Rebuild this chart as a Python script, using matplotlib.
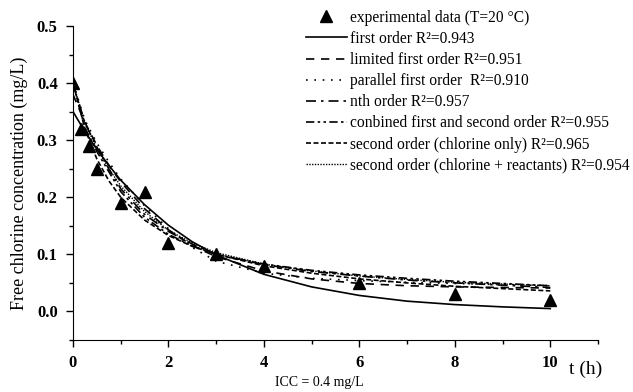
import matplotlib
matplotlib.use("Agg")
import matplotlib.pyplot as plt
from matplotlib.ticker import MultipleLocator

plt.rcParams["font.family"] = "Liberation Serif"

# experimental data
t_exp = [0, 0.17, 0.33, 0.5, 1, 1.5, 2, 3, 4, 6, 8, 10]
c_exp = [0.40, 0.32, 0.29, 0.25, 0.19, 0.21, 0.12, 0.10, 0.08, 0.05, 0.03, 0.02]

# model curves
t_fit = [0, 0.25, 0.5, 0.75, 1, 1.5, 2, 2.5, 3, 4, 5, 6, 7, 8, 9, 10]
first_order = [0.350, 0.315, 0.284, 0.256, 0.230, 0.187, 0.151, 0.122, 0.099, 0.065,
               0.043, 0.028, 0.018, 0.012, 0.008, 0.005]
limited_first = [0.380, 0.331, 0.291, 0.256, 0.227, 0.180, 0.143, 0.115, 0.096, 0.071,
                 0.057, 0.049, 0.045, 0.043, 0.042, 0.041]
parallel_first = [0.400, 0.335, 0.295, 0.262, 0.232, 0.185, 0.145, 0.112, 0.088, 0.067,
                  0.058, 0.054, 0.051, 0.049, 0.047, 0.045]
nth_order = [0.400, 0.330, 0.288, 0.250, 0.215, 0.170, 0.140, 0.118, 0.100, 0.082,
             0.070, 0.062, 0.055, 0.050, 0.046, 0.042]
combined = [0.400, 0.322, 0.280, 0.245, 0.210, 0.165, 0.135, 0.115, 0.100, 0.083,
            0.072, 0.064, 0.058, 0.053, 0.049, 0.045]
second_cl = [0.400, 0.320, 0.267, 0.229, 0.200, 0.160, 0.133, 0.114, 0.100, 0.080,
             0.067, 0.057, 0.050, 0.044, 0.040, 0.036]
second_cl_r = [0.400, 0.330, 0.285, 0.250, 0.220, 0.175, 0.142, 0.120, 0.103, 0.083,
               0.071, 0.062, 0.056, 0.051, 0.048, 0.045]

fig = plt.figure(figsize=(6.33, 3.92), dpi=100)
ax = fig.add_axes([0.1153, 0.1327, 0.8294, 0.801])

ax.plot(t_exp, c_exp, "^", color="black", ms=8, label="experimental data (T=20 \u00b0C)")
ax.plot(t_fit, first_order, "-", c="black", lw=1.2, label="first order R\u00b2=0.943")
ax.plot(t_fit, limited_first, c="black", lw=1.2, ls=(0, (5, 4)),
        label="limited first order R\u00b2=0.951")
ax.plot(t_fit, parallel_first, c="black", lw=1.2, ls=(0, (1, 4)),
        label="parallel first order  R\u00b2=0.910")
ax.plot(t_fit, nth_order, c="black", lw=1.2, ls=(0, (6, 3, 1.5, 3)),
        label="nth order R\u00b2=0.957")
ax.plot(t_fit, combined, c="black", lw=1.2, ls=(0, (5, 2, 1.5, 2, 1.5, 2)),
        label="conbined first and second order R\u00b2=0.955")
ax.plot(t_fit, second_cl, c="black", lw=1.2, ls=(0, (3, 1.5)),
        label="second order (chlorine only) R\u00b2=0.965")
ax.plot(t_fit, second_cl_r, c="black", lw=1.0, ls=(0, (1, 1)),
        label="second order (chlorine + reactants) R\u00b2=0.954")

ax.set_xlim(0, 11)
ax.set_ylim(-0.05, 0.5)
ax.xaxis.set_minor_locator(MultipleLocator(1))
ax.yaxis.set_minor_locator(MultipleLocator(0.05))
ax.set_xticks([0, 2, 4, 6, 8, 10])
ax.set_yticks([0.0, 0.1, 0.2, 0.3, 0.4, 0.5])
ax.yaxis.set_major_formatter(plt.FuncFormatter(lambda v, p: f"{v:.1f}"))
ax.tick_params(which="major", direction="out", length=5, width=1, labelsize=12, pad=6)
ax.tick_params(which="minor", direction="out", length=3, width=1)
for lab in ax.get_xticklabels() + ax.get_yticklabels():
    lab.set_fontweight("bold")
ax.spines["top"].set_visible(False)
ax.spines["right"].set_visible(False)

ax.set_ylabel("Free chlorine concentration (mg/L)", fontsize=13, labelpad=6)
fig.text(0.925, 0.045, "t (h)", fontsize=14, ha="center")
fig.text(0.505, 0.015, "ICC = 0.4 mg/L", fontsize=10, ha="center")

fig.legend(*ax.get_legend_handles_labels(), loc="upper left",
           bbox_to_anchor=(0.483, 0.975), frameon=False, fontsize=11.2,
           handlelength=2.65, handletextpad=0.2, labelspacing=0.33,
           borderpad=0, borderaxespad=0)

fig.savefig("out.png", dpi=100)
